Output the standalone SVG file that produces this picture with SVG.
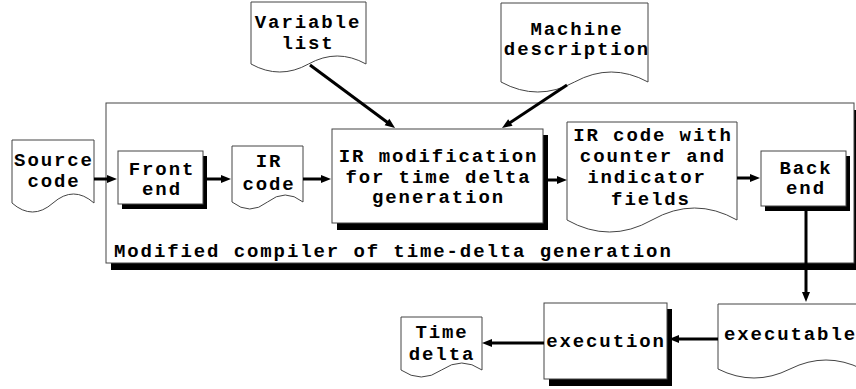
<svg xmlns="http://www.w3.org/2000/svg" width="856" height="389" viewBox="0 0 856 389">
  <style>
    .lbl { font-family: "Liberation Mono", "Courier New", monospace; font-weight: bold; font-size: 19px; letter-spacing: 1.9px; fill: #000; text-anchor: middle; }
    .box { fill: #fff; stroke: #444; stroke-width: 1; }
    .shadow { fill: #000; }
    .doc { fill: #fff; stroke: #444; stroke-width: 1; }
    .arrow { stroke: #000; stroke-width: 3; fill: none; marker-end: url(#head); }
  </style>
  <defs>
    <marker id="head" markerUnits="userSpaceOnUse" markerWidth="10" markerHeight="8" refX="2" refY="4" orient="auto" overflow="visible">
      <path d="M0,0 L10,4 L0,8 Z" fill="#000"/>
    </marker>
  </defs>
  <rect width="856" height="389" fill="#fff"/>

  <!-- compiler container -->
  <g id="compiler">
    <rect class="shadow" x="111" y="110" width="748" height="160"/>
    <rect class="box" x="106" y="103" width="748" height="160"/>
    <text class="lbl" x="114" y="257" style="text-anchor:start">Modified compiler of time-delta generation</text>
  </g>

  <g id="source-code">
    <path class="doc" d="M12,140 H94 V203 Q73.5,185 53,203 T12,203 Z"/>
    <text class="lbl" x="54" y="166">Source</text>
    <text class="lbl" x="54" y="187">code</text>
  </g>

  <g id="front-end">
    <rect class="shadow" x="122" y="156" width="85" height="53"/>
    <rect class="box" x="118" y="151" width="85" height="53"/>
    <text class="lbl" x="162" y="175">Front</text>
    <text class="lbl" x="162" y="195">end</text>
  </g>

  <g id="ir-code">
    <path class="doc" d="M232,146 H303 V202 Q285.25,188 267.5,202 T232,202 Z"/>
    <text class="lbl" x="269" y="167">IR</text>
    <text class="lbl" x="269" y="190">code</text>
  </g>

  <g id="ir-modification">
    <rect class="shadow" x="337" y="135" width="211" height="95"/>
    <rect class="box" x="332" y="129" width="211" height="94"/>
    <text class="lbl" x="438.5" y="162">IR modification</text>
    <text class="lbl" x="438.5" y="183">for time delta</text>
    <text class="lbl" x="438.5" y="203">generation</text>
  </g>

  <g id="ir-code-fields">
    <path class="doc" d="M567,122 H737 V220 Q694.5,196 652,220 T567,220 Z"/>
    <text class="lbl" x="653" y="141">IR code with</text>
    <text class="lbl" x="653" y="162">counter and</text>
    <text class="lbl" x="647" y="183">indicator</text>
    <text class="lbl" x="651" y="205">fields</text>
  </g>

  <g id="back-end">
    <rect class="shadow" x="765" y="156" width="85" height="55"/>
    <rect class="box" x="761" y="151" width="85" height="55"/>
    <text class="lbl" x="806" y="174">Back</text>
    <text class="lbl" x="806" y="194">end</text>
  </g>

  <g id="variable-list">
    <path class="doc" d="M251,2 H366 V64 Q337.25,48 308.5,64 T251,64 Z"/>
    <text class="lbl" x="308" y="28">Variable</text>
    <text class="lbl" x="308" y="49">list</text>
  </g>

  <g id="machine-description">
    <path class="doc" d="M501,3 H648 V82 Q611.25,62 574.5,82 T501,82 Z"/>
    <text class="lbl" x="577" y="35">Machine</text>
    <text class="lbl" x="577" y="55">description</text>
  </g>

  <g id="executable">
    <path class="doc" d="M718,304 H862 V369 Q826,351 790,369 T718,369 Z"/>
    <text class="lbl" x="790.5" y="340">executable</text>
  </g>

  <g id="execution">
    <rect class="shadow" x="549" y="309" width="123" height="77"/>
    <rect class="box" x="544" y="303" width="123" height="76"/>
    <text class="lbl" x="606" y="347">execution</text>
  </g>

  <g id="time-delta">
    <path class="doc" d="M401,317 H482 V370 Q461.75,356 441.5,370 T401,370 Z"/>
    <text class="lbl" x="442" y="338">Time</text>
    <text class="lbl" x="442" y="360">delta</text>
  </g>

  <!-- connectors -->
  <g id="connectors">
    <line class="arrow" x1="94" y1="179" x2="109" y2="179"/>
    <line class="arrow" x1="207" y1="179" x2="223" y2="179"/>
    <line class="arrow" x1="303" y1="179" x2="323" y2="179"/>
    <line class="arrow" x1="548" y1="180" x2="559" y2="180"/>
    <line class="arrow" x1="737" y1="178" x2="752" y2="178"/>
    <line class="arrow" x1="806" y1="211" x2="806" y2="294"/>
    <line class="arrow" x1="718" y1="339" x2="677" y2="339"/>
    <line class="arrow" x1="544" y1="343" x2="490" y2="343"/>
    <line class="arrow" x1="310" y1="65" x2="388.6" y2="123.2"/>
    <line class="arrow" x1="567" y1="85" x2="508.7" y2="123.6"/>
  </g>
</svg>
